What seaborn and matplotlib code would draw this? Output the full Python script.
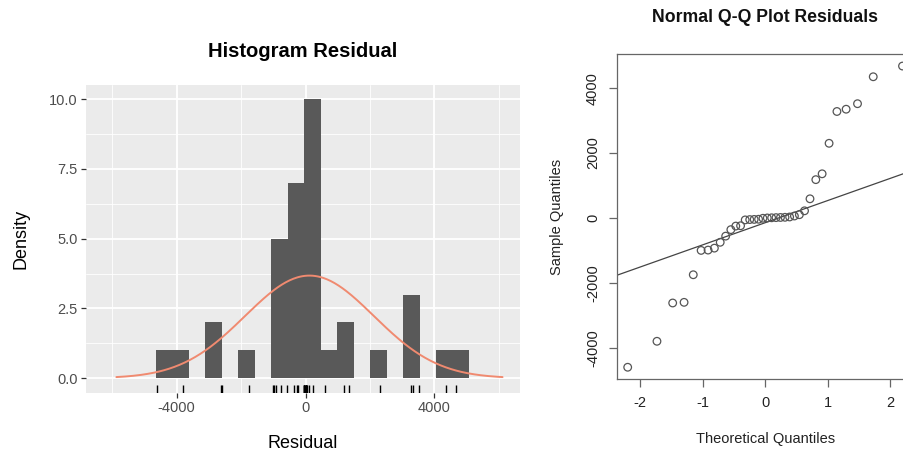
import numpy as np
import pandas as pd
import matplotlib
matplotlib.use("Agg")
import matplotlib.pyplot as plt
import seaborn as sns
from statistics import NormalDist

# ---- data ----
residuals = [-4600, -3800, -2620, -2600, -1750, -1000, -990, -930, -750, -560,
             -360, -250, -240, -60, -50, -45, -40, -10, 0, 5, 10, 15, 20, 30,
             60, 100, 220, 590, 1180, 1360, 2300, 3280, 3350, 3520, 4350, 4680]
hist_ticks_x = [-4000, 0, 4000]
hist_ticks_y = [0.0, 2.5, 5.0, 7.5, 10.0]
hist_tick_labels_y = ["0.0", "2.5", "5.0", "7.5", "10.0"]
qq_ticks_x = [-2, -1, 0, 1, 2]
qq_ticks_y = [-4000, -2000, 0, 2000, 4000]

binwidth = 512
bin_start = -4645

sns.set_theme(style="darkgrid")
plt.rcParams["font.family"] = ["Liberation Sans", "DejaVu Sans"]
plt.rcParams["axes.unicode_minus"] = False
plt.rcParams["text.color"] = "black"
plt.rcParams["axes.labelcolor"] = "black"

fig = plt.figure(figsize=(9.04, 4.5), dpi=100)

# ---------------- left: histogram ----------------
W, H = 904.0, 450.0
axL = fig.add_axes([86 / W, 1 - 393 / H, (520 - 86) / W, (393 - 85) / H])
axL.set_facecolor("#EBEBEB")

res = np.array(residuals, dtype=float)
n = len(res)
edges = bin_start + binwidth * np.arange(0, 20)
sns.histplot(x=res, bins=edges, color="#595959", edgecolor="none", alpha=1.0,
             ax=axL, zorder=2)

mu, sd = res.mean(), res.std(ddof=1)
xs = np.linspace(mu - 3 * sd, mu + 3 * sd, 300)
ys = n * binwidth * np.exp(-0.5 * ((xs - mu) / sd) ** 2) / (sd * np.sqrt(2 * np.pi))
sns.lineplot(x=xs, y=ys, color="#F08A70", lw=1.4, ax=axL, zorder=3)
sns.rugplot(x=res, height=0.026, color="black", lw=1.4, ax=axL, zorder=4)

axL.set_xlim(-6818, 6662)
axL.set_ylim(-0.53, 10.51)
axL.set_xticks(hist_ticks_x)
axL.set_xticklabels([str(t) for t in hist_ticks_x])
axL.set_yticks(hist_ticks_y)
axL.set_yticklabels(hist_tick_labels_y)
axL.set_xticks([-6000, -2000, 2000, 6000], minor=True)
axL.set_yticks([1.25, 3.75, 6.25, 8.75], minor=True)
axL.grid(which="major", color="white", lw=1.3, zorder=0)
axL.grid(which="minor", color="white", lw=0.6, zorder=0)
axL.set_axisbelow(True)
for s in axL.spines.values():
    s.set_visible(False)
axL.tick_params(which="major", length=3.5, width=0.9, color="#333333",
                labelcolor="#4D4D4D", labelsize=10.5, pad=2.5,
                bottom=True, left=True)
axL.tick_params(which="minor", length=0)
axL.set_xlabel("Residual", fontsize=13, color="black", labelpad=14)
axL.set_ylabel("Density", fontsize=13, color="black", labelpad=14)
axL.set_title("Histogram Residual", fontsize=14.5, fontweight="bold",
              color="black", pad=20)

# ---------------- right: normal Q-Q plot ----------------
axR = fig.add_axes([616.7 / W, 1 - 379.3 / H, (913.5 - 616.7) / W, (379.3 - 54) / H])
axR.set_facecolor("white")
srt = np.sort(res)
nd = NormalDist()
probs = (np.arange(1, n + 1) - 0.5) / n
theo = np.array([nd.inv_cdf(p) for p in probs])
qq = pd.DataFrame({"theo": theo, "sample": srt})
sns.scatterplot(data=qq, x="theo", y="sample", ax=axR, s=30, marker="o",
                facecolor="none", edgecolor="#555555", linewidth=0.9, zorder=3)

q1, q3 = np.quantile(res, [0.25, 0.75])
t1, t3 = nd.inv_cdf(0.25), nd.inv_cdf(0.75)
slope = (q3 - q1) / (t3 - t1)
intercept = q1 - slope * t1
axR.axline((0, intercept), slope=slope, color="#444444", lw=0.9, zorder=2)

xr = theo.max() - theo.min()
yr = srt.max() - srt.min()
axR.set_xlim(theo.min() - 0.04 * xr, theo.max() + 0.04 * xr)
axR.set_ylim(srt.min() - 0.04 * yr, srt.max() + 0.04 * yr)
axR.set_xticks(qq_ticks_x)
axR.set_xticklabels([str(t) for t in qq_ticks_x])
axR.set_yticks(qq_ticks_y)
axR.set_yticklabels([str(t) for t in qq_ticks_y], rotation=90, va="center")
axR.grid(False)
for side in ["left", "bottom", "top", "right"]:
    axR.spines[side].set_visible(True)
    axR.spines[side].set_color("#666666")
    axR.spines[side].set_linewidth(0.9)
axR.tick_params(length=6, width=0.9, color="#666666", labelcolor="#222222",
                labelsize=10.5, pad=6, bottom=True, left=True, direction="out")
axR.set_xlabel("Theoretical Quantiles", fontsize=10.5, color="#222222", labelpad=16)
axR.set_ylabel("Sample Quantiles", fontsize=10.5, color="#222222", labelpad=16)
fig.text(765 / W, 1 - 18 / H, "Normal Q-Q Plot Residuals", ha="center",
         va="center", fontsize=12.7, fontweight="bold", color="#111111")

fig.savefig("out.png", dpi=100)
